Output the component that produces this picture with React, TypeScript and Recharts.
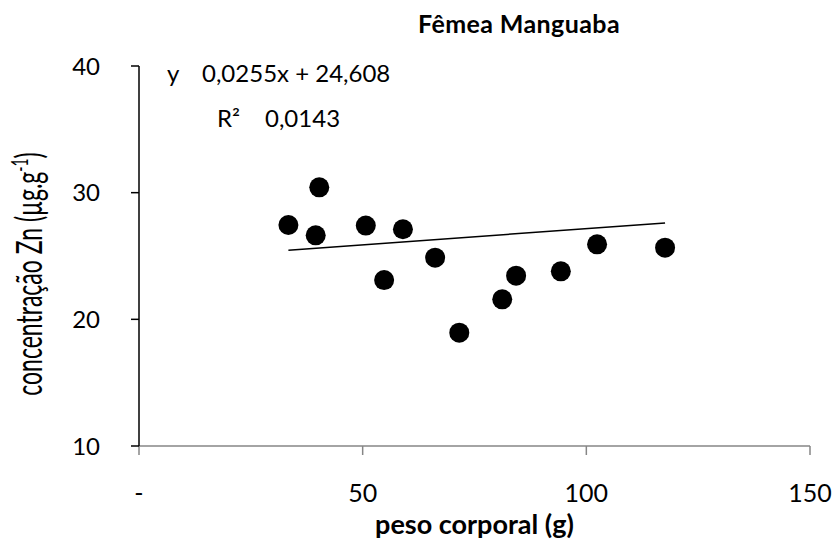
import { ScatterChart, Scatter, XAxis, YAxis, Label } from "recharts";

// peso corporal (g) vs concentração de Zn (µg.g-1), fêmeas da lagoa Manguaba
const pesoCorporal = [33.4, 39.5, 40.3, 50.7, 54.8, 59.0, 66.2, 71.6, 81.2, 84.3, 94.3, 102.4, 117.6];
const concZn = [27.45, 26.63, 30.42, 27.4, 23.1, 27.11, 24.87, 18.95, 21.58, 23.45, 23.79, 25.92, 25.66];

const xTicks = [0, 50, 100, 150];
const yTicks = [10, 20, 30, 40];

// linear trendline reported by the spreadsheet
const slope = 0.0255;
const intercept = 24.608;

const points = pesoCorporal.map((x, i) => ({ x, y: concZn[i] }));
const xMin = Math.min(...pesoCorporal);
const xMax = Math.max(...pesoCorporal);
const trend = [
  { x: xMin, y: slope * xMin + intercept },
  { x: xMax, y: slope * xMax + intercept },
];

const FONT = "Lato, 'Open Sans', sans-serif";

const Dot = (props: any) => <circle cx={props.cx} cy={props.cy} r={10} fill="#000" />;

// the axis title in the source image is stretched, so scale the glyph height
const YLabel = () => (
  <text
    transform="translate(42 274) rotate(-90) scale(1 1.6)"
    x={0}
    y={0}
    textAnchor="middle"
    fontFamily={FONT}
    fontSize={23}
    fill="#000"
  >
    concentração Zn (µg.g
    <tspan dy={-9} fontSize={14}>-1</tspan>
    <tspan dy={9}>)</tspan>
  </text>
);

const textBox = { position: "absolute" as const, fontFamily: FONT, color: "#000", whiteSpace: "pre" as const };

export default function App() {
  return (
    <div style={{ position: "absolute", left: 0, top: 0, width: 836, height: 542, background: "#fff" }}>
      <ScatterChart width={836} height={542} margin={{ top: 66, right: 26, left: 0, bottom: 0 }}>
        <XAxis
          type="number"
          dataKey="x"
          domain={[0, 150]}
          ticks={xTicks}
          tickFormatter={(v: number) => (v === 0 ? "-" : String(v))}
          height={96}
          stroke="#868686"
          strokeWidth={1.5}
          tickSize={9}
          tickMargin={29}
          tick={{ fill: "#000", fontSize: 25, fontFamily: FONT }}
        >
          <Label
            value="peso corporal (g)"
            position="insideBottom"
            offset={8}
            style={{ fill: "#000", fontSize: 27, fontWeight: 700, fontFamily: FONT }}
          />
        </XAxis>
        <YAxis
          type="number"
          dataKey="y"
          domain={[10, 40]}
          ticks={yTicks}
          width={139}
          stroke="#000"
          strokeWidth={1.5}
          tickSize={8}
          tickMargin={31}
          tick={{ fill: "#000", fontSize: 24, fontFamily: FONT }}
        >
          <Label content={YLabel} />
        </YAxis>
        <Scatter
          data={trend}
          line={{ stroke: "#000", strokeWidth: 1.5 }}
          shape={() => <g />}
          isAnimationActive={false}
        />
        <Scatter data={points} shape={Dot} isAnimationActive={false} />
      </ScatterChart>
      <div
        style={{
          ...textBox,
          left: 369,
          top: 8,
          width: 300,
          textAlign: "center",
          fontWeight: 700,
          fontSize: 25,
          letterSpacing: 0.4,
        }}
      >
        Fêmea Manguaba
      </div>
      <div style={{ ...textBox, left: 167, top: 58, fontSize: 24 }}>y</div>
      <div style={{ ...textBox, left: 202, top: 58, fontSize: 24 }}>0,0255x + 24,608</div>
      <div style={{ ...textBox, left: 217, top: 103, fontSize: 24 }}>R²</div>
      <div style={{ ...textBox, left: 265, top: 103, fontSize: 24 }}>0,0143</div>
    </div>
  );
}
